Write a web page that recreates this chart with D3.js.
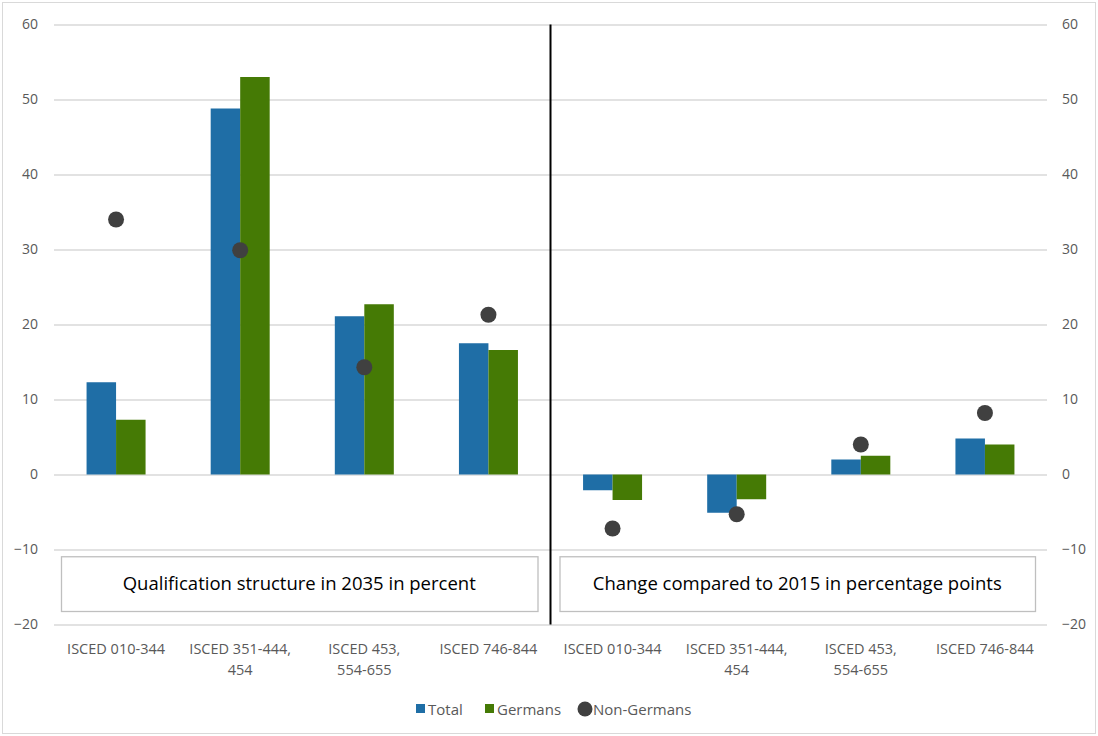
<!DOCTYPE html>
<html>
<head>
<meta charset="utf-8">
<script src="https://cdn.jsdelivr.net/npm/d3@7"></script>
<style>
  body { margin: 0; background: #fff; overflow: hidden; }
  svg { display: block; overflow: visible; }
  text { font-family: "Open Sans", "Noto Sans", sans-serif; }
</style>
</head>
<body>
<div class="graph"></div>
<script>
const width = 1098;
const height = 736;
const margin = {top: 24.5, right: 51, bottom: 111.5, left: 54};
const innerWidth = width - margin.left - margin.right;
const innerHeight = height - margin.top - margin.bottom;

const categories = ['ISCED 010-344', 'ISCED 351-444, 454', 'ISCED 453, 554-655', 'ISCED 746-844',
                    'ISCED 010-344 ', 'ISCED 351-444, 454 ', 'ISCED 453, 554-655 ', 'ISCED 746-844 '];
const catLines = [['ISCED 010-344'], ['ISCED 351-444,', '454'], ['ISCED 453,', '554-655'], ['ISCED 746-844'],
                  ['ISCED 010-344'], ['ISCED 351-444,', '454'], ['ISCED 453,', '554-655'], ['ISCED 746-844']];
const total = [12.3, 48.8, 21.1, 17.5, -2.1, -5.1, 2.0, 4.8];
const germans = [7.3, 53.0, 22.7, 16.6, -3.4, -3.3, 2.5, 4.0];
const nonGermans = [34.0, 29.9, 14.3, 21.3, -7.2, -5.3, 4.0, 8.2];
const yTicks = [60, 50, 40, 30, 20, 10, 0, -10, -20];
const panelTitles = ['Qualification structure in 2035 in percent', 'Change compared to 2015 in percentage points'];

const blue = '#1f6ea6';
const green = '#457a05';
const dark = '#404040';
const grid = '#d9d9d9';
const labelColor = '#595959';

const svg = d3.select('.graph').append('svg')
  .attr('width', width)
  .attr('height', height);

// outer frame
svg.append('rect')
  .attr('x', 2.5).attr('y', 2.5)
  .attr('width', width - 5).attr('height', height - 5)
  .attr('fill', 'none').attr('stroke', grid);

const chart = svg.append('g')
  .attr('transform', `translate(${margin.left}, ${margin.top})`);

const x = d3.scaleBand().domain(categories).range([0, innerWidth]);
const y = d3.scaleLinear().domain([-20, 60]).range([innerHeight, 0]);

// gridlines
chart.append('g').selectAll('line').data(yTicks).join('line')
  .attr('x1', 0).attr('x2', innerWidth)
  .attr('y1', d => Math.round(y(d)) + 0.5).attr('y2', d => Math.round(y(d)) + 0.5)
  .attr('stroke', grid).attr('stroke-width', 1.3);

// tick labels on both sides
const leftAxis = d3.axisLeft(y).tickValues(yTicks).tickSize(0).tickPadding(16);
const rightAxis = d3.axisRight(y).tickValues(yTicks).tickSize(0).tickPadding(15);
[chart.append('g').call(leftAxis),
 chart.append('g').attr('transform', `translate(${innerWidth}, 0)`).call(rightAxis)]
  .forEach(g => {
    g.select('.domain').remove();
    g.selectAll('text').attr('fill', labelColor).style('font-size', '14px')
      .style('font-family', '"Open Sans", sans-serif');
  });

const barW = 29.5;
const bars = chart.append('g');
bars.selectAll('rect.total').data(total).join('rect')
  .attr('class', 'total')
  .attr('x', (d, i) => x(categories[i]) + x.bandwidth() / 2 - barW)
  .attr('width', barW)
  .attr('y', d => y(Math.max(0, d)))
  .attr('height', d => Math.abs(y(d) - y(0)))
  .attr('fill', blue);
bars.selectAll('rect.germans').data(germans).join('rect')
  .attr('class', 'germans')
  .attr('x', (d, i) => x(categories[i]) + x.bandwidth() / 2)
  .attr('width', barW)
  .attr('y', d => y(Math.max(0, d)))
  .attr('height', d => Math.abs(y(d) - y(0)))
  .attr('fill', green);

chart.append('g').selectAll('circle').data(nonGermans).join('circle')
  .attr('cx', (d, i) => x(categories[i]) + x.bandwidth() / 2)
  .attr('cy', d => y(d))
  .attr('r', 8)
  .attr('fill', dark);

// separator between the two panels
chart.append('line')
  .attr('x1', x(categories[4])).attr('x2', x(categories[4]))
  .attr('y1', 0).attr('y2', innerHeight)
  .attr('stroke', '#000').attr('stroke-width', 2);

// panel captions
const boxY = y(-10.9), boxH = y(-18.2) - y(-10.9);
panelTitles.forEach((t, k) => {
  const x0 = x(categories[k * 4]) + (k === 0 ? 7 : 9);
  const x1 = x(categories[k * 4 + 3]) + x.bandwidth() - (k === 0 ? 13 : 12);
  chart.append('rect')
    .attr('x', x0 + 0.5).attr('y', boxY + 0.5)
    .attr('width', x1 - x0).attr('height', boxH)
    .attr('fill', '#fff').attr('stroke', '#bfbfbf').attr('stroke-width', 1.3);
  chart.append('text')
    .attr('x', (x0 + x1) / 2).attr('y', boxY + boxH / 2 + 6.5)
    .attr('text-anchor', 'middle')
    .style('font-size', '18.5px').attr('fill', '#000')
    .text(t);
});

// category labels
const catG = chart.append('g').attr('transform', `translate(0, ${innerHeight})`);
catLines.forEach((lines, i) => {
  const t = catG.append('text')
    .attr('x', x(categories[i]) + x.bandwidth() / 2)
    .attr('y', 29)
    .attr('text-anchor', 'middle')
    .attr('fill', labelColor)
    .style('font-size', '14.5px');
  lines.forEach((l, j) => {
    t.append('tspan').attr('x', x(categories[i]) + x.bandwidth() / 2)
      .attr('dy', j === 0 ? 0 : 21).text(l);
  });
});

// legend
const legend = svg.append('g').attr('transform', 'translate(0, 709)');
legend.append('rect').attr('x', 416).attr('y', -5).attr('width', 9).attr('height', 9).attr('fill', blue);
legend.append('text').attr('x', 428).attr('y', 5.5).text('Total')
  .attr('fill', labelColor).style('font-size', '15px');
legend.append('rect').attr('x', 485).attr('y', -5).attr('width', 9).attr('height', 9).attr('fill', green);
legend.append('text').attr('x', 497).attr('y', 5.5).text('Germans')
  .attr('fill', labelColor).style('font-size', '15px');
legend.append('circle').attr('cx', 585).attr('cy', 0).attr('r', 7.5).attr('fill', dark);
legend.append('text').attr('x', 593).attr('y', 5.5).text('Non-Germans')
  .attr('fill', labelColor).style('font-size', '15px');
</script>
</body>
</html>
